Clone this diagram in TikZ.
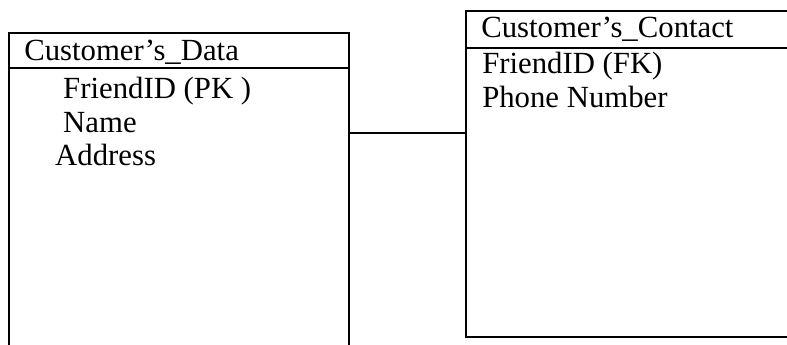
\documentclass[tikz,border=0pt]{standalone}
\usepackage{fontspec}
\setmainfont{Liberation Serif}
\usepackage{tikz}

\begin{document}
\begin{tikzpicture}[x=0.4pt,y=-0.4pt,line width=1pt,
    field/.style={anchor=base west,inner sep=0pt,font=\fontsize{12.3}{14}\selectfont}]
      \useasboundingbox (0,0) rectangle (787,345);
      % Customer's_Data table
      \draw (9,345)--(9,33)--(349,33)--(349,345);
      \draw (9,68)--(349,68);
      \node[field] (dataT) at (23,61) {Customer’s\_Data};
      \node[field] (dataPK) at (62,99) {FriendID (PK )};
      \node[field] (dataN) at (62,133) {Name};
      \node[field] (dataA) at (54,166) {Address};
      % Customer's_Contact table
      \draw (787,11)--(466,11)--(466,337)--(787,337);
      \draw (466,48)--(787,48);
      \node[field] (contT) at (480,38) {Customer’s\_Contact};
      \node[field] (contFK) at (481,74) {FriendID (FK)};
      \node[field] (contP) at (481,108) {Phone Number};
      % relation
      \coordinate (dataR) at (349,133);
      \coordinate (contL) at (466,133);
      \draw[line width=0.8pt] (dataR)--(contL);
    \end{tikzpicture}
\end{document}
